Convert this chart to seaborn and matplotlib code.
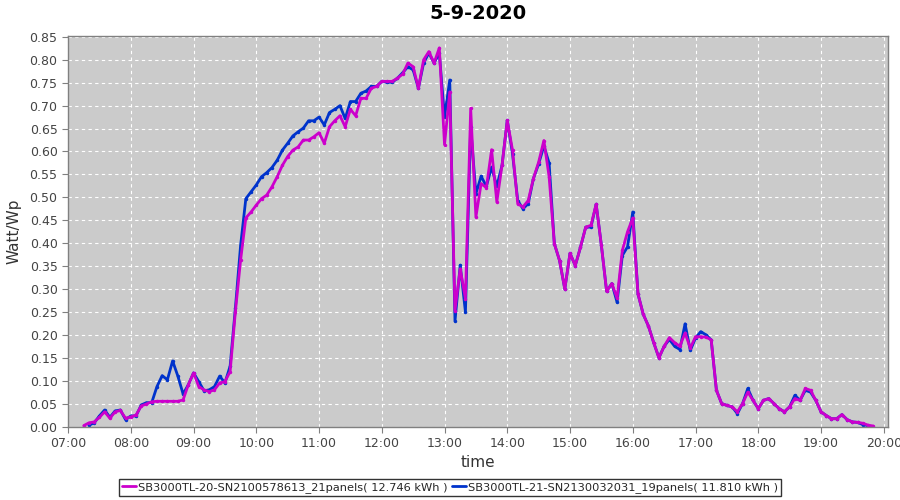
import numpy as np
import pandas as pd
import seaborn as sns
import matplotlib.pyplot as plt
import matplotlib.dates as mdates

# 5-minute samples, 07:15 .. 19:50
times = pd.date_range("2020-09-05 07:15", "2020-09-05 19:50", freq="5min")

name_20 = "SB3000TL-20-SN2100578613_21panels( 12.746 kWh )"
name_21 = "SB3000TL-21-SN2130032031_19panels( 11.810 kWh )"

# Watt per Wp, one row per hour
sb20 = [
    0.002, 0.008, 0.010, 0.020, 0.032, 0.018, 0.032, 0.035, 0.018,
    0.021, 0.025, 0.045, 0.049, 0.054, 0.055, 0.055, 0.055, 0.055, 0.055, 0.058, 0.091,
    0.117, 0.087, 0.080, 0.076, 0.080, 0.095, 0.098, 0.120, 0.250, 0.363, 0.455, 0.468,
    0.483, 0.497, 0.505, 0.523, 0.545, 0.570, 0.589, 0.603, 0.610, 0.625, 0.625, 0.632,
    0.641, 0.618, 0.654, 0.667, 0.678, 0.654, 0.692, 0.678, 0.716, 0.716, 0.738, 0.742,
    0.753, 0.753, 0.753, 0.760, 0.769, 0.793, 0.785, 0.738, 0.800, 0.818, 0.793, 0.826,
    0.615, 0.730, 0.253, 0.344, 0.279, 0.694, 0.457, 0.530, 0.521, 0.604, 0.490, 0.570,
    0.668, 0.603, 0.486, 0.479, 0.493, 0.541, 0.577, 0.624, 0.545, 0.399, 0.362, 0.300,
    0.378, 0.351, 0.391, 0.435, 0.439, 0.485, 0.395, 0.295, 0.312, 0.280, 0.384, 0.425,
    0.455, 0.289, 0.245, 0.219, 0.183, 0.150, 0.175, 0.194, 0.183, 0.175, 0.204, 0.171,
    0.196, 0.196, 0.195, 0.189, 0.079, 0.050, 0.046, 0.043, 0.032, 0.050, 0.075, 0.057,
    0.039, 0.057, 0.061, 0.050, 0.039, 0.032, 0.043, 0.061, 0.057, 0.083, 0.079, 0.057,
    0.032, 0.024, 0.017, 0.017, 0.026, 0.015, 0.010, 0.009, 0.007, 0.003, 0.001,
]
sb21 = [
    np.nan, 0.003, 0.008, 0.023, 0.036, 0.020, 0.034, 0.036, 0.015,
    0.023, 0.023, 0.047, 0.052, 0.052, 0.087, 0.111, 0.102, 0.143, 0.110, 0.071, 0.091,
    0.117, 0.098, 0.078, 0.080, 0.087, 0.110, 0.095, 0.132, 0.258, 0.395, 0.497, 0.512,
    0.527, 0.545, 0.554, 0.565, 0.581, 0.603, 0.618, 0.634, 0.643, 0.651, 0.667, 0.667,
    0.675, 0.658, 0.685, 0.692, 0.700, 0.672, 0.709, 0.709, 0.727, 0.732, 0.742, 0.742,
    0.753, 0.751, 0.751, 0.760, 0.772, 0.785, 0.778, 0.738, 0.793, 0.815, 0.793, 0.815,
    0.675, 0.756, 0.230, 0.352, 0.250, 0.654, 0.508, 0.546, 0.524, 0.566, 0.524, 0.570,
    0.668, 0.595, 0.493, 0.475, 0.486, 0.541, 0.573, 0.612, 0.575, 0.399, 0.362, 0.300,
    0.378, 0.351, 0.391, 0.435, 0.435, 0.485, 0.395, 0.295, 0.312, 0.271, 0.373, 0.392,
    0.468, 0.289, 0.245, 0.219, 0.183, 0.150, 0.175, 0.190, 0.175, 0.168, 0.224, 0.166,
    0.193, 0.207, 0.200, 0.189, 0.079, 0.050, 0.046, 0.043, 0.028, 0.050, 0.083, 0.057,
    0.039, 0.057, 0.061, 0.050, 0.039, 0.032, 0.043, 0.068, 0.057, 0.079, 0.075, 0.057,
    0.032, 0.024, 0.017, 0.017, 0.026, 0.015, 0.010, 0.009, 0.004, 0.002, np.nan,
]

df = pd.concat([
    pd.DataFrame({"time": times, "value": sb21, "inverter": name_21}),
    pd.DataFrame({"time": times, "value": sb20, "inverter": name_20}),
]).dropna()

colors = {name_20: "#CC00CC", name_21: "#0033CC"}

sns.set_style("white")
fig = plt.figure(figsize=(9, 5), dpi=100)
ax = fig.add_axes([0.0756, 0.147, 0.911, 0.781])
ax.set_facecolor("#CBCBCB")

# blue first so magenta sits on top, like the original
sns.lineplot(data=df, x="time", y="value", hue="inverter", hue_order=[name_21, name_20],
             palette=colors, linewidth=2, marker="o", markersize=2.5, markeredgewidth=0,
             ax=ax, legend=False)

ax.set_xlim(pd.Timestamp("2020-09-05 07:00"), pd.Timestamp("2020-09-05 20:04"))
ax.set_ylim(0, 0.852)
ax.xaxis.set_major_locator(mdates.HourLocator())
ax.xaxis.set_major_formatter(mdates.DateFormatter("%H:%M"))
ax.set_yticks(np.arange(0, 0.851, 0.05))
ax.yaxis.set_major_formatter(plt.FormatStrFormatter("%.2f"))
ax.grid(True, color="white", linestyle=(0, (3, 3)), linewidth=0.8)
ax.tick_params(axis="both", colors="#808080", labelcolor="#444444", labelsize=9,
               length=4, direction="out", left=True, bottom=True)
for s in ax.spines.values():
    s.set_color("#808080")
    s.set_linewidth(1)

ax.set_title("5-9-2020", fontsize=14, fontweight="bold", color="black", pad=12)
ax.set_xlabel("time", fontsize=11, color="#333333", labelpad=4)
ax.set_ylabel("Watt/Wp", fontsize=11, color="#333333", labelpad=6)

handles = [plt.Line2D([], [], color=colors[n], linewidth=2) for n in (name_20, name_21)]
leg = fig.legend(handles, [name_20, name_21], loc="lower center", bbox_to_anchor=(0.5, -0.004),
                 ncol=2, fontsize=8.2, frameon=True, fancybox=False, handlelength=1.2,
                 handletextpad=0.2, columnspacing=0.4, borderpad=0.3)
leg.get_frame().set_edgecolor("black")
leg.get_frame().set_linewidth(1)

fig.savefig("out.png", dpi=100)
